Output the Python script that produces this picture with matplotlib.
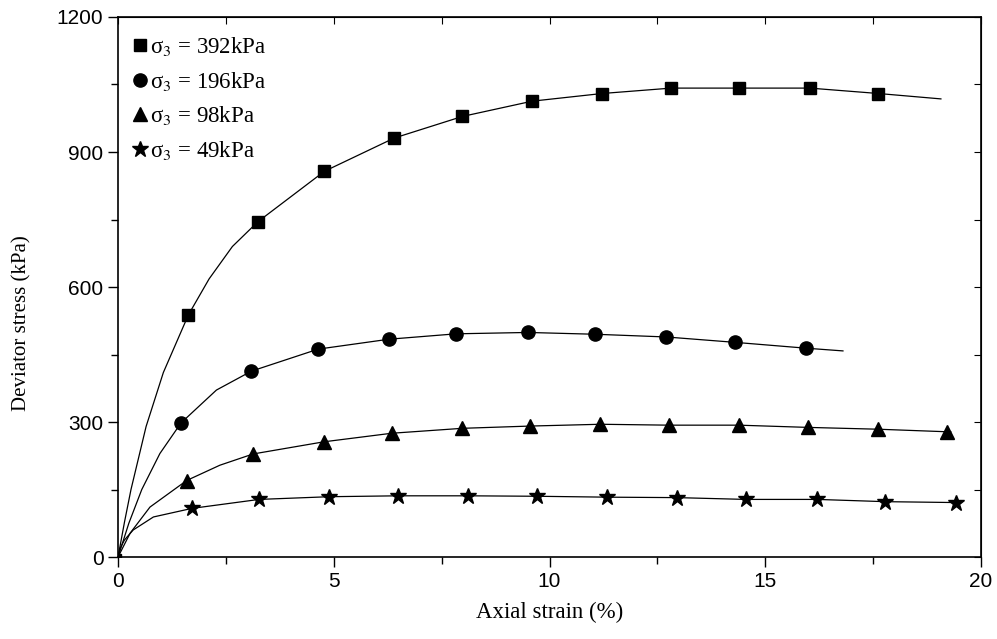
#stress-strain curves at different confining pressures
import matplotlib.pyplot as plt
from matplotlib.ticker import MultipleLocator

# marker points (axial strain %, deviator stress kPa)
x392 = [0, 1.63, 3.24, 4.78, 6.40, 7.98, 9.60, 11.22, 12.82, 14.38, 16.03, 17.62]
y392 = [0, 538, 745, 857, 931, 979, 1013, 1030, 1042, 1042, 1042, 1030]
x196 = [0, 1.46, 3.09, 4.64, 6.28, 7.84, 9.50, 11.06, 12.70, 14.30, 15.95]
y196 = [0, 298, 413, 462, 484, 496, 499, 495, 489, 477, 464]
x98 = [0, 1.59, 3.13, 4.77, 6.34, 7.98, 9.55, 11.18, 12.76, 14.38, 16.00, 17.61, 19.20]
y98 = [0, 170, 229, 256, 275, 286, 291, 295, 293, 293, 288, 284, 278]
x49 = [0, 1.71, 3.27, 4.89, 6.49, 8.11, 9.71, 11.33, 12.95, 14.55, 16.20, 17.78, 19.43]
y49 = [0, 108, 128, 134, 136, 136, 135, 133, 132, 128, 128, 123, 121]

# points (near origin and the tail)
cx392 = [0, 0.15, 0.30, 0.65, 1.05, 1.63, 2.11, 2.65, 3.24, 4.78, 6.40, 7.98, 9.60, 11.22, 12.82, 14.38, 16.03, 17.62, 19.07]
cy392 = [0, 78, 150, 290, 410, 538, 618, 690, 745, 857, 931, 979, 1013, 1030, 1042, 1042, 1042, 1030, 1018]
cx196 = [0, 0.25, 0.55, 0.97, 1.46, 2.28, 3.09, 4.64, 6.28, 7.84, 9.50, 11.06, 12.70, 14.30, 15.95, 16.80]
cy196 = [0, 75, 150, 230, 298, 371, 413, 462, 484, 496, 499, 495, 489, 477, 464, 458]
cx98 = [0, 0.28, 0.74, 1.59, 2.36, 3.13, 4.77, 6.34, 7.98, 9.55, 11.18, 12.76, 14.38, 16.00, 17.61, 19.30]
cy98 = [0, 53, 111, 170, 204, 229, 256, 275, 286, 291, 295, 293, 293, 288, 284, 278]
cx49 = [0, 0.05, 0.15, 0.35, 0.82, 1.71, 3.27, 4.89, 6.49, 8.11, 9.71, 11.33, 12.95, 14.55, 16.20, 17.78, 19.43]
cy49 = [0, 20, 38, 60, 89, 108, 128, 134, 136, 136, 135, 133, 132, 128, 128, 123, 121]

labels = ['σ$_3$ = 392kPa', 'σ$_3$ = 196kPa', 'σ$_3$ = 98kPa', 'σ$_3$ = 49kPa']

plt.rcParams['mathtext.fontset'] = 'stix'

fig = plt.figure(figsize=(9.97, 6.39), dpi=100)
ax = fig.add_axes([0.1184, 0.1283, 0.8656, 0.8451])

series = [(x392, y392, cx392, cy392, 's', 8), (x196, y196, cx196, cy196, 'o', 9.5),
          (x98, y98, cx98, cy98, '^', 10), (x49, y49, cx49, cy49, '*', 12)]
handles = []
for (x, y, cx, cy, m, ms), lab in zip(series, labels):
    ax.plot(cx, cy, color='black', linewidth=0.9)
    h, = ax.plot(x[1:], y[1:], linestyle='none', marker=m, markersize=ms, color='black', label=lab)
    handles.append(h)
ax.plot([0], [0], marker='s', markersize=4, color='black')

ax.set_xlim(0, 20)
ax.set_ylim(0, 1200)
ax.xaxis.set_major_locator(MultipleLocator(5))
ax.xaxis.set_minor_locator(MultipleLocator(2.5))
ax.yaxis.set_major_locator(MultipleLocator(300))
ax.yaxis.set_minor_locator(MultipleLocator(150))
ax.tick_params(which='both', direction='out', top=False, right=False)
ax.tick_params(which='major', length=7, width=1, labelsize=15)
ax.tick_params(which='minor', length=5, width=1)
for lab in ax.get_xticklabels() + ax.get_yticklabels():
    lab.set_family('Liberation Sans')
# mirrored inward ticks on top and right
sec_x = ax.secondary_xaxis('top')
sec_x.xaxis.set_major_locator(MultipleLocator(2.5))
sec_x.tick_params(direction='in', length=5, labeltop=False)
sec_y = ax.secondary_yaxis('right')
sec_y.yaxis.set_major_locator(MultipleLocator(150))
sec_y.tick_params(direction='in', length=5, labelright=False)
for s in ax.spines.values():
    s.set_linewidth(1.2)

ax.set_xlabel('Axial strain (%)', family='Liberation Serif', fontsize=16.5, labelpad=8)
ax.set_ylabel('Deviator stress (kPa)', family='Liberation Serif', fontsize=15)
ax.yaxis.set_label_coords(-0.1, 0.433)

ax.legend(handles=handles, loc='upper left', bbox_to_anchor=(-0.004, 1.0), frameon=False,
          handlelength=0.6, handletextpad=0.15, labelspacing=0.5, borderaxespad=0.4,
          prop={'family': 'Liberation Serif', 'size': 16.5})

fig.savefig('out.png', dpi=100)
